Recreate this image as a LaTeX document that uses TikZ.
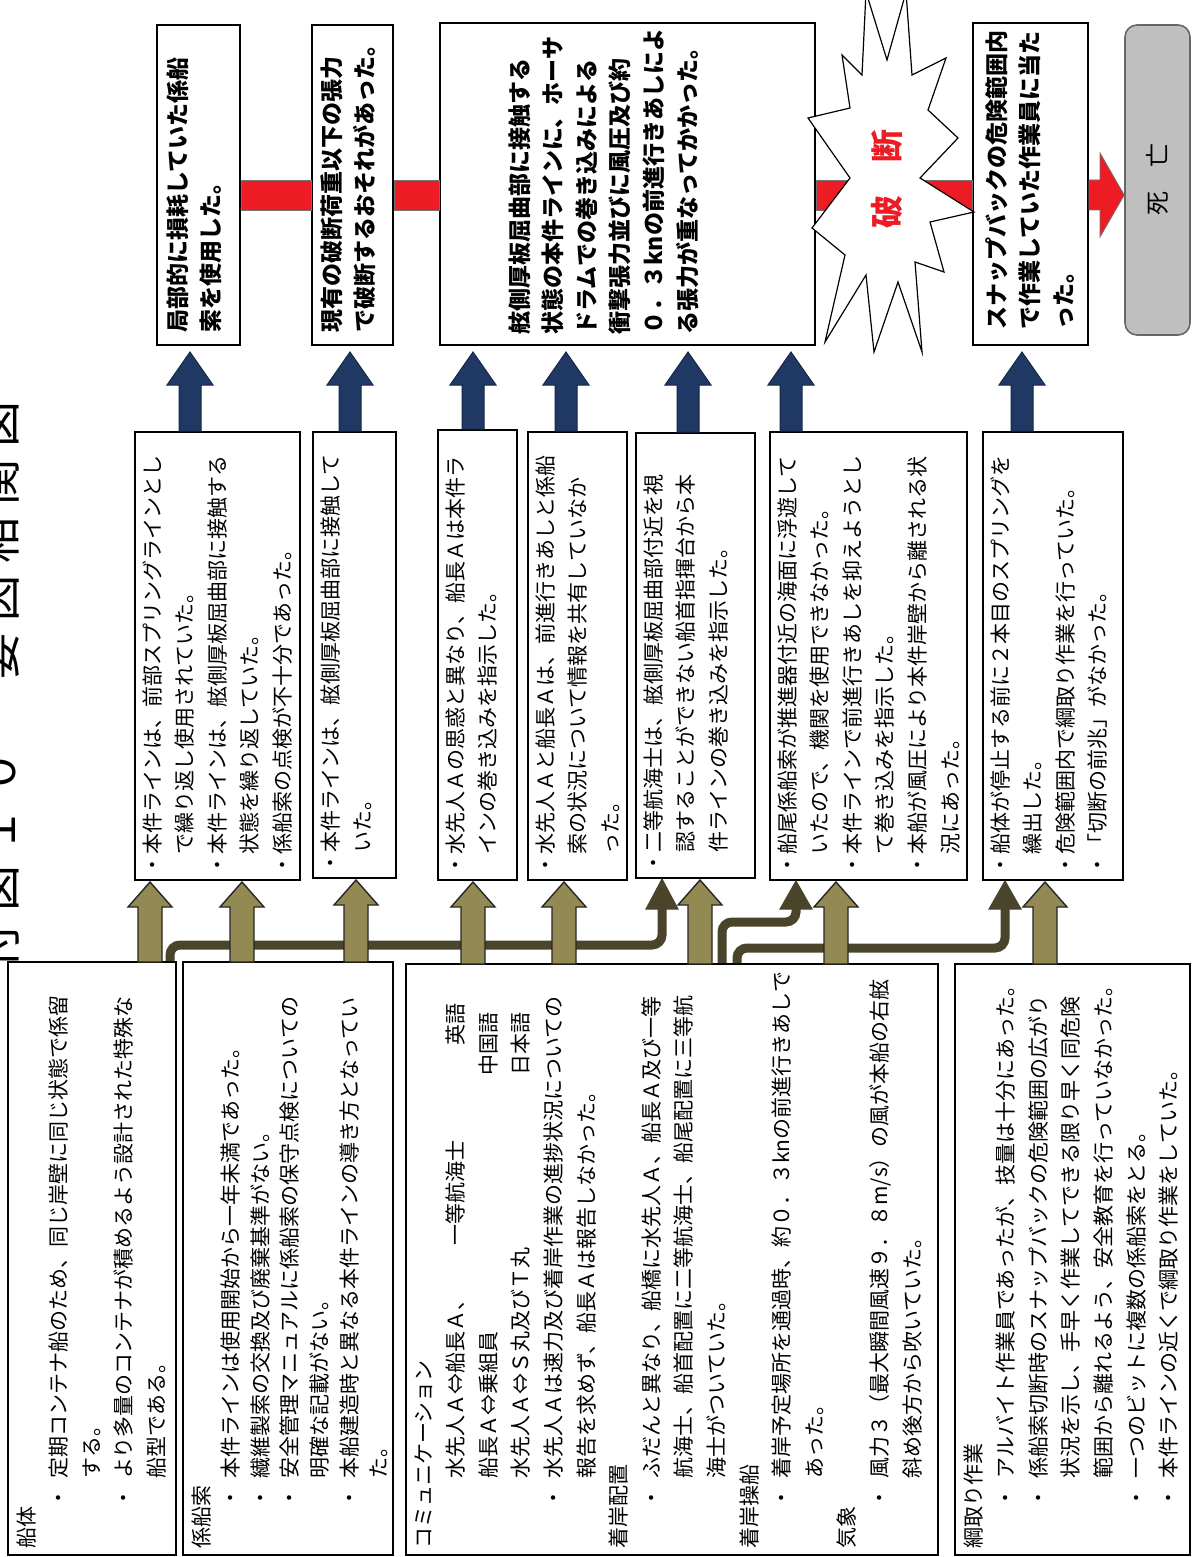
\documentclass[tikz,border=0pt]{standalone}
\usepackage{fontspec}
\setmainfont{Noto Sans CJK JP}
\usetikzlibrary{fit}
\definecolor{redbar}{RGB}{237,28,36}
\definecolor{navyar}{RGB}{31,56,100}
\definecolor{olivefill}{RGB}{147,137,83}
\definecolor{olivedark}{RGB}{74,69,42}
\definecolor{deathgray}{RGB}{191,191,191}
\newcommand\jbul[1]{\makebox[35pt][l]{\hspace*{20pt}・}#1}
\newcommand\jcont[1]{\hspace*{35pt}#1}
\newcommand\tch[1]{\makebox[29pt]{#1}}
\newcommand\blockup[7]{\filldraw[#7] ({#1-#6/2},#3) -- ({#1-#6/2},{#2+#4}) -- ({#1-#5/2},{#2+#4}) -- (#1,#2) -- ({#1+#5/2},{#2+#4}) -- ({#1+#6/2},{#2+#4}) -- ({#1+#6/2},#3) -- cycle;}
\begin{document}
\begin{tikzpicture}[x=0.5pt,y=-0.5pt,
  box/.style={draw=black, line width=0.9pt, fill=white, inner sep=0pt},
  redconn/.style={fill=redbar, draw=black!55, line width=0.4pt},
  bluearrow/.style={fill=navyar, draw=navyar!70!black, line width=0.5pt},
  olivearrow/.style={fill=olivefill, draw=black!85, line width=0.7pt},
  darkconn/.style={draw=olivedark, line width=4.5pt, rounded corners=5pt},
  darkhead/.style={fill=olivedark, draw=olivedark, line width=0.5pt},
  ftext/.style={rotate=90, anchor=north west, inner sep=0pt, align=left, font=\fontsize{10.5}{16.3}\selectfont},
  rtext/.style={rotate=90, anchor=north west, inner sep=0pt, align=left, font=\bfseries\fontsize{11.5}{16.8}\selectfont}]
\useasboundingbox (0,0) rectangle (1192,1557);
\fill[white] (0,0) rectangle (1192,1557);

% result boxes
\node[box, fit={(157,25) (240,345)}] (r1) {};
\node[box, fit={(312,25) (393,345)}] (r2) {};
\node[box, fit={(440,23) (815,345)}] (r3) {};
\node[box, fit={(973,23) (1088,345)}] (r5) {};
\node[fit={(1125,25) (1190,335)}, inner sep=0pt, rounded corners=6pt, fill=deathgray, draw=black!60, line width=0.8pt] (death) {};

% red connectors
\filldraw[redconn] (r1.east |- 0,180) rectangle (r2.west |- 0,210);
\filldraw[redconn] (r2.east |- 0,180) rectangle (r3.west |- 0,210);
\filldraw[redconn] (r3.east |- 0,180) rectangle (r5.west |- 0,210);
\filldraw[redconn] (r5.east |- 0,180) -- (1100,180) -- (1100,153) -- (death.west |- 0,195) -- (1100,237) -- (1100,210) -- (r5.east |- 0,210) -- cycle;

% explosion
\filldraw[fill=white, draw=black, line width=0.6pt] (812,228) -- (845,255) -- (825,342) -- (866,275) -- (874,352) -- (898,282) -- (922,352) -- (915,262) -- (944,272) -- (930,222) -- (974,212) -- (920,178) -- (958,138) -- (928,110) -- (946,58) -- (912,75) -- (906,-8) -- (887,60) -- (866,-8) -- (862,75) -- (842,55) -- (850,108) -- (808,118) -- (850,178) -- cycle;
\node[rotate=90, inner sep=0pt, text=redbar, font=\bfseries\fontsize{16.5}{16.5}\selectfont] (brk) at (887,179) {破　断};

% result texts
\node[rtext] (t1) at (166,333) {局部的に損耗していた係船\\索を使用した。};
\node[rtext] (t2) at (320,333) {現有の破断荷重以下の張力\\で破断するおそれがあった。};
\node[rtext] (t3) at (508,335) {舷側厚板屈曲部に接触する\\状態の本件ラインに、ホーサ\\ドラムでの巻き込みによる\\衝撃張力並びに風圧及び約\\０．３knの前進行きあしによ\\る張力が重なってかかった。};
\node[rtext] (t5) at (985,330) {スナップバックの危険範囲内\\で作業していた作業員に当た\\った。};
\node[rotate=90, inner sep=0pt, font=\fontsize{12}{12}\selectfont] (td) at (death.center) {死　亡};

% factor boxes
\node[box, fit={(135,432) (300,880)}] (f1) {};
\node[box, fit={(313,432) (396,878)}] (f2) {};
\node[box, fit={(438,430) (517,880)}] (f3) {};
\node[box, fit={(528,432) (627,880)}] (f4) {};
\node[box, fit={(636,433) (755,878)}] (f5) {};
\node[box, fit={(770,432) (967,880)}] (f6) {};
\node[box, fit={(983,432) (1123,880)}] (f7) {};

\node[ftext] (ft1) at (142,876) {・本件ラインは、前部スプリングラインとし\\　で繰り返し使用されていた。\\・本件ラインは、舷側厚板屈曲部に接触する\\　状態を繰り返していた。\\・係船索の点検が不十分であった。};
\node[ftext] (ft2) at (320,874) {・本件ラインは、舷側厚板屈曲部に接触して\\　いた。};
\node[ftext] (ft3) at (445,876) {・水先人Ａの思惑と異なり、船長Ａは本件ラ\\　インの巻き込みを指示した。};
\node[ftext] (ft4) at (535,876) {・水先人Ａと船長Ａは、前進行きあしと係船\\　索の状況について情報を共有していなか\\　った。};
\node[ftext] (ft5) at (643,874) {・二等航海士は、舷側厚板屈曲部付近を視\\　認することができない船首指揮台から本\\　件ラインの巻き込みを指示した。};
\node[ftext] (ft6) at (777,876) {・船尾係船索が推進器付近の海面に浮遊して\\　いたので、機関を使用できなかった。\\・本件ラインで前進行きあしを抑えようとし\\　て巻き込みを指示した。\\・本船が風圧により本件岸壁から離される状\\　況にあった。};
\node[ftext] (ft7) at (990,876) {・船体が停止する前に２本目のスプリングを\\　繰出した。\\・危険範囲内で綱取り作業を行っていた。\\・「切断の前兆」がなかった。};

% blue arrows (factor -> result)
\blockup{190}{352}{431}{33}{46}{22}{bluearrow}
\blockup{350}{352}{431}{33}{46}{22}{bluearrow}
\blockup{473}{352}{429}{33}{46}{22}{bluearrow}
\blockup{566}{352}{431}{33}{46}{22}{bluearrow}
\blockup{688}{352}{432}{33}{46}{22}{bluearrow}
\blockup{791}{352}{431}{33}{46}{22}{bluearrow}
\blockup{1022}{352}{431}{33}{46}{22}{bluearrow}

% background boxes
\node[box, fit={(8,962) (176,1555)}] (b1) {};
\node[box, fit={(183,962) (393,1555)}] (b2) {};
\node[box, fit={(406,964) (938,1555)}] (b3) {};
\node[box, fit={(955,964) (1190,1555)}] (b4) {};

\node[ftext] (bt1) at (16,1549) {船体\\\jbul{定期コンテナ船のため、同じ岸壁に同じ状態で係留}\\\jcont{する。}\\\jbul{より多量のコンテナが積めるよう設計された特殊な}\\\jcont{船型である。}};
\node[ftext, font=\fontsize{10.5}{14.8}\selectfont] (bt2) at (191,1549) {係船索\\\jbul{本件ラインは使用開始から一年未満であった。}\\\jbul{繊維製索の交換及び廃棄基準がない。}\\\jbul{安全管理マニュアルに係船索の保守点検についての}\\\jcont{明確な記載がない。}\\\jbul{本船建造時と異なる本件ラインの導き方となってい}\\\jcont{た。}};
\node[ftext] (bt3) at (414,1549) {コミュニケーション\\\jcont{\makebox[116.5pt][l]{水先人Ａ⇔船長Ａ、}\makebox[100pt][l]{一等航海士}英語}\\\jcont{\makebox[201.5pt][l]{船長Ａ⇔乗組員}中国語}\\\jcont{\makebox[201.5pt][l]{水先人Ａ⇔Ｓ丸及びＴ丸}日本語}\\\jbul{水先人Ａは速力及び着岸作業の進捗状況についての}\\\jcont{報告を求めず、船長Ａは報告しなかった。}\\着岸配置\\\jbul{ふだんと異なり、船橋に水先人Ａ、船長Ａ及び一等}\\\jcont{航海士、船首配置に二等航海士、船尾配置に三等航}\\\jcont{海士がついていた。}\\着岸操船\\\jbul{着岸予定場所を通過時、約０．３knの前進行きあしで}\\\jcont{あった。}\\気象\\\jbul{風力３（最大瞬間風速９．８m/s）の風が本船の右舷}\\\jcont{斜め後方から吹いていた。}};
\node[ftext] (bt4) at (963,1549) {綱取り作業\\\jbul{アルバイト作業員であったが、技量は十分にあった。}\\\jbul{係船索切断時のスナップバックの危険範囲の広がり}\\\jcont{状況を示し、手早く作業してできる限り早く同危険}\\\jcont{範囲から離れるよう、安全教育を行っていなかった。}\\\jbul{一つのビットに複数の係船索をとる。}\\\jbul{本件ラインの近くで綱取り作業をしていた。}};

% dark connectors (background -> factor)
\draw[darkconn] (b1.north -| 170,0) -- (170,945) -- (662,945) -- (662,906);
\filldraw[darkhead] (646,909) -- (f5.south -| 662,0) -- (678,909) -- cycle;
\draw[darkconn] (b3.north -| 722,0) -- (722,922) -- (796,922) -- (796,906);
\filldraw[darkhead] (780,909) -- (f6.south -| 796,0) -- (812,909) -- cycle;
\draw[darkconn] (b3.north -| 737,0) -- (737,948) -- (1005,948) -- (1005,906);
\filldraw[darkhead] (989,909) -- (f7.south -| 1005,0) -- (1021,909) -- cycle;

% olive arrows (background -> factor)
\blockup{150}{882}{962}{25}{44}{24}{olivearrow}
\blockup{242}{882}{962}{25}{44}{24}{olivearrow}
\blockup{356}{880}{962}{25}{44}{24}{olivearrow}
\blockup{473}{882}{964}{25}{44}{24}{olivearrow}
\blockup{564}{882}{964}{25}{44}{24}{olivearrow}
\blockup{700}{880}{964}{25}{44}{24}{olivearrow}
\blockup{836}{882}{964}{25}{44}{24}{olivearrow}
\blockup{1045}{882}{964}{25}{44}{24}{olivearrow}

% title
\node[rotate=90, inner sep=0pt, font=\fontsize{23}{23}\selectfont] (title) at (-2,685) {\tch{付}\tch{図}\tch{１}\tch{０}\tch{　}\tch{要}\tch{因}\tch{相}\tch{関}\tch{図}};
\end{tikzpicture}
\end{document}
